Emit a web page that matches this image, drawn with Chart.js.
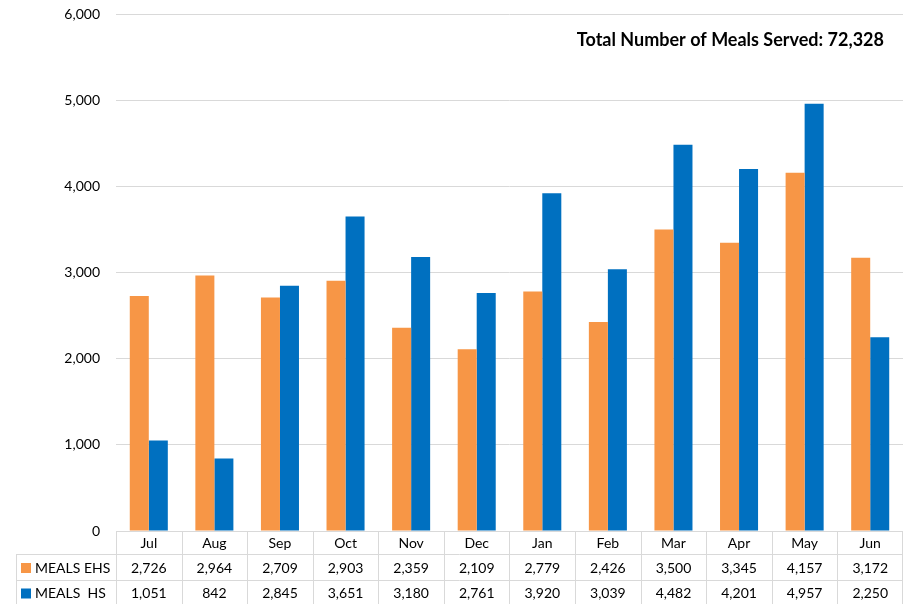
<!DOCTYPE html>
<html lang="en">
<head>
    <meta charset="UTF-8">
    <title>Meals Served by Month</title>
    <script src="https://cdn.jsdelivr.net/npm/chart.js"></script>
    <style>
        body {
            margin: 0;
            padding: 0;
            background-color: #ffffff;
        }

        .chart-box {
            width: 919px;
            height: 604px;
        }
    </style>
</head>
<body>

    <div class="chart-box">
        <canvas id="mealsChart"></canvas>
    </div>

    <script>
        // Monthly meal counts
        const months = ['Jul', 'Aug', 'Sep', 'Oct', 'Nov', 'Dec', 'Jan', 'Feb', 'Mar', 'Apr', 'May', 'Jun'];
        const mealsEHS = [2726, 2964, 2709, 2903, 2359, 2109, 2779, 2426, 3500, 3345, 4157, 3172];
        const mealsHS = [1051, 842, 2845, 3651, 3180, 2761, 3920, 3039, 4482, 4201, 4957, 2250];
        const seriesNames = ['MEALS EHS', 'MEALS  HS'];
        const seriesColors = ['#F79646', '#0070C0'];

        const FONT = 'Lato, "Open Sans", sans-serif';
        const fmt = v => v.toLocaleString('en-US');
        const totalMeals = mealsEHS.concat(mealsHS).reduce((a, b) => a + b, 0);

        // Data table under the plot plus the total label
        const tablePlugin = {
            id: 'dataTable',
            afterDraw(chart) {
                const ctx = chart.ctx;
                const area = chart.chartArea;
                const x = chart.scales.x;
                const rowTops = [area.bottom, area.bottom + 23, area.bottom + 49, area.bottom + 74];
                const leftEdge = 16;
                const half = (x.getPixelForValue(1) - x.getPixelForValue(0)) / 2;

                ctx.save();
                ctx.strokeStyle = '#d9d9d9';
                ctx.lineWidth = 1;
                ctx.beginPath();
                // horizontal rules
                ctx.moveTo(area.left, rowTops[0] + 0.5);
                ctx.lineTo(area.right, rowTops[0] + 0.5);
                for (let r = 1; r < rowTops.length; r++) {
                    ctx.moveTo(leftEdge, rowTops[r] + 0.5);
                    ctx.lineTo(area.right, rowTops[r] + 0.5);
                }
                // vertical rules
                ctx.moveTo(leftEdge + 0.5, rowTops[1]);
                ctx.lineTo(leftEdge + 0.5, rowTops[3]);
                months.forEach((m, i) => {
                    const px = Math.round(x.getPixelForValue(i) - half) + 0.5;
                    ctx.moveTo(px, rowTops[0]);
                    ctx.lineTo(px, rowTops[3]);
                });
                ctx.moveTo(Math.round(area.right) - 0.5, rowTops[0]);
                ctx.lineTo(Math.round(area.right) - 0.5, rowTops[3]);
                ctx.stroke();

                ctx.fillStyle = '#000000';
                ctx.font = '14px ' + FONT;
                ctx.textAlign = 'center';
                ctx.textBaseline = 'middle';
                months.forEach((m, i) => {
                    const cx = x.getPixelForValue(i);
                    ctx.fillText(m, cx, (rowTops[0] + rowTops[1]) / 2 + 1);
                    ctx.fillText(fmt(mealsEHS[i]), cx, (rowTops[1] + rowTops[2]) / 2 + 1);
                    ctx.fillText(fmt(mealsHS[i]), cx, (rowTops[2] + rowTops[3]) / 2 + 1);
                });

                // legend keys in the row headers
                ctx.textAlign = 'left';
                seriesNames.forEach((name, r) => {
                    const cy = (rowTops[r + 1] + rowTops[r + 2]) / 2;
                    ctx.fillStyle = seriesColors[r];
                    ctx.fillRect(21, cy - 4, 10, 10);
                    ctx.fillStyle = '#000000';
                    ctx.fillText(name, 35, cy + 1);
                });

                ctx.font = 'bold 18px ' + FONT;
                ctx.textAlign = 'right';
                ctx.fillText('Total Number of Meals Served: ' + fmt(totalMeals), 884, 40);
                ctx.restore();
            }
        };

        const ctx1 = document.getElementById('mealsChart').getContext('2d');
        new Chart(ctx1, {
            type: 'bar',
            data: {
                labels: months,
                datasets: [
                    { label: seriesNames[0], data: mealsEHS, backgroundColor: seriesColors[0] },
                    { label: seriesNames[1], data: mealsHS, backgroundColor: seriesColors[1] }
                ]
            },
            options: {
                responsive: true,
                maintainAspectRatio: false,
                animation: false,
                layout: { padding: { top: 14, bottom: 65, right: 16, left: 0 } },
                datasets: {
                    bar: { categoryPercentage: 0.58, barPercentage: 1.0 }
                },
                scales: {
                    x: {
                        ticks: { display: false },
                        grid: { display: false },
                        border: { display: false }
                    },
                    y: {
                        min: 0,
                        max: 6000,
                        ticks: {
                            stepSize: 1000,
                            color: '#000000',
                            padding: 16,
                            font: { family: FONT, size: 14 },
                            callback: v => fmt(v)
                        },
                        grid: { color: '#d9d9d9', drawTicks: false },
                        border: { display: false },
                        afterFit(scale) {
                            scale.width = 116;
                            scale.paddingTop = 0;
                            scale.paddingBottom = 0;
                        }
                    }
                },
                plugins: {
                    legend: { display: false },
                    tooltip: { enabled: false }
                }
            },
            plugins: [tablePlugin]
        });
    </script>
</body>
</html>
